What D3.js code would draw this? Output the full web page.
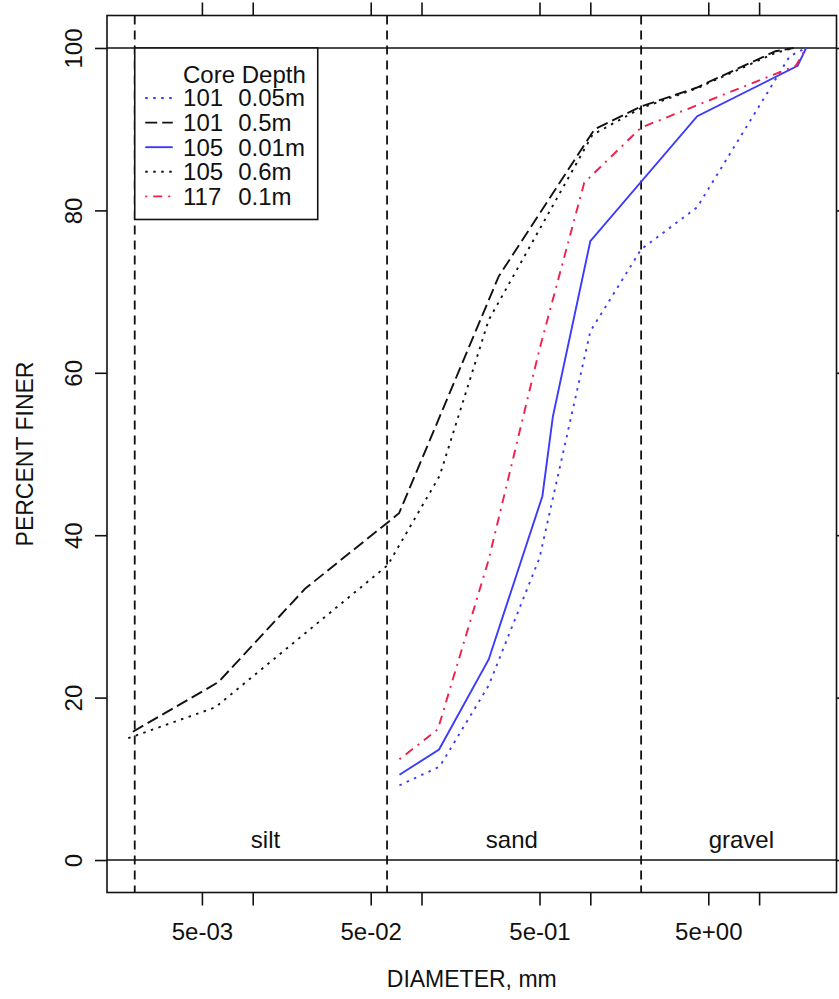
<!DOCTYPE html>
<html>
<head>
<meta charset="utf-8">
<script src="https://cdn.jsdelivr.net/npm/d3@7"></script>
<style>
  html, body { margin: 0; padding: 0; background: #ffffff; }
  svg { display: block; }
  text { font-family: "Liberation Sans", Arial, Helvetica, sans-serif; fill: #111; }
</style>
</head>
<body>
<svg id="chart" width="839" height="999"></svg>
<script>
// Grain-size distribution curves (percent finer vs. diameter, log scale)

const seriesLabels = [["101", "0.05m"], ["101", "0.5m"], ["105", "0.01m"], ["105", "0.6m"], ["117", "0.1m"]];

const diam101a = [0.074, 0.128, 0.25, 0.5, 1.0, 2.0, 4.3, 15.2, 19];
const pct101a  = [9.2, 11.5, 21.5, 37.2, 65.1, 75.2, 80.4, 99.0, 100];

const diam101b = [0.00195, 0.00625, 0.0204, 0.0736, 0.287, 1.06, 2.0, 4.25, 12.5, 16];
const pct101b  = [15.8, 21.9, 33.4, 42.7, 71.9, 90.0, 92.8, 95.1, 99.6, 100];

const diam105a = [0.074, 0.127, 0.25, 0.52, 0.6, 1.0, 4.3, 16.9, 19];
const pct105a  = [10.5, 13.6, 24.7, 44.8, 54.6, 76.2, 91.6, 97.8, 100];

const diam105b = [0.00183, 0.006, 0.063, 0.128, 0.25, 1.03, 2.0, 4.25, 12.5, 16];
const pct105b  = [15.0, 18.8, 36.3, 47.3, 66.5, 89.3, 92.6, 95.0, 99.4, 100];

const diam117 = [0.074, 0.125, 0.25, 0.5, 0.92, 2.0, 16.5, 19];
const pct117  = [12.4, 16.1, 37.0, 62.9, 83.4, 90.2, 97.8, 100];

const xTickValues = [0.005, 0.01, 0.05, 0.1, 0.5, 1, 5, 10];
const xTickLabels = ["5e-03", "", "5e-02", "", "5e-01", "", "5e+00", ""];
const yTickValues = [0, 20, 40, 60, 80, 100];

// class boundaries (mm): clay/silt, silt/sand, sand/gravel
const boundaries = [0.002, 0.0625, 2];
const classNames = ["silt", "sand", "gravel"];
const classLabelX = [0.0119, 0.343, 7.85];

const styles = [
  { color: "#3b3bff", dash: "2.5,5.5" },
  { color: "#111111", dash: "12,5" },
  { color: "#3b3bff", dash: null },
  { color: "#111111", dash: "2.5,5.5" },
  { color: "#f0204a", dash: "2,6,9,6" }
];

const seriesData = [
  d3.zip(diam101a, pct101a),
  d3.zip(diam101b, pct101b),
  d3.zip(diam105a, pct105a),
  d3.zip(diam105b, pct105b),
  d3.zip(diam117, pct117)
];

const pLeft = 107, pRight = 836.5, pTop = 15.5, pBottom = 892.5;

const x = d3.scaleLog()
  .domain([0.001370, 28.74])
  .range([pLeft, pRight]);

const y = d3.scaleLinear()
  .domain([-4, 104])
  .range([pBottom, pTop]);

const svg = d3.select("#chart");

svg.append("defs").append("clipPath").attr("id", "plotClip")
  .append("rect")
  .attr("x", pLeft).attr("y", pTop)
  .attr("width", pRight - pLeft).attr("height", pBottom - pTop);

const fmt = d => xTickLabels[xTickValues.indexOf(d)];

// bottom axis
const gx = svg.append("g")
  .attr("transform", `translate(0,${pBottom})`)
  .call(d3.axisBottom(x).tickValues(xTickValues).tickFormat(fmt).tickSize(13).tickSizeOuter(0));
gx.select(".domain").remove();
gx.selectAll("line").attr("stroke", "#111").attr("stroke-width", 1.6);
gx.selectAll("text").attr("dy", null).attr("y", 47)
  .style("font-size", "24px").style("font-family", "Liberation Sans, Arial, sans-serif").attr("fill", "#111");

// top axis (ticks only)
const gxt = svg.append("g")
  .attr("transform", `translate(0,${pTop})`)
  .call(d3.axisTop(x).tickValues(xTickValues).tickFormat("").tickSize(13).tickSizeOuter(0));
gxt.select(".domain").remove();
gxt.selectAll("line").attr("stroke", "#111").attr("stroke-width", 1.6);

// left axis
const gy = svg.append("g")
  .attr("transform", `translate(${pLeft},0)`)
  .call(d3.axisLeft(y).tickValues(yTickValues).tickSize(12).tickSizeOuter(0));
gy.select(".domain").remove();
gy.selectAll("line").attr("stroke", "#111").attr("stroke-width", 1.6);
gy.selectAll("text")
  .attr("x", null).attr("dy", null)
  .attr("transform", "translate(-25,0) rotate(-90)")
  .attr("text-anchor", "middle")
  .style("font-size", "24px").style("font-family", "Liberation Sans, Arial, sans-serif").attr("fill", "#111");

// right axis (ticks only)
const gyr = svg.append("g")
  .attr("transform", `translate(${pRight},0)`)
  .call(d3.axisRight(y).tickValues(yTickValues).tickFormat("").tickSize(12).tickSizeOuter(0));
gyr.select(".domain").remove();
gyr.selectAll("line").attr("stroke", "#111").attr("stroke-width", 1.6);

// reference lines at 0 % and 100 %
svg.append("g").selectAll("line").data([0, 100]).join("line")
  .attr("x1", pLeft).attr("x2", pRight)
  .attr("y1", d => y(d)).attr("y2", d => y(d))
  .attr("stroke", "#111").attr("stroke-width", 1.6);

// size-class boundaries
svg.append("g").selectAll("line").data(boundaries).join("line")
  .attr("x1", d => x(d)).attr("x2", d => x(d))
  .attr("y1", pTop).attr("y2", pBottom)
  .attr("stroke", "#111").attr("stroke-width", 1.8)
  .attr("stroke-dasharray", "9,6");

// class names
svg.append("g").selectAll("text").data(classNames).join("text")
  .attr("x", (d, i) => x(classLabelX[i]))
  .attr("y", y(1.45))
  .attr("text-anchor", "middle")
  .style("font-size", "24px")
  .text(d => d);

// curves
const line = d3.line().x(d => x(d[0])).y(d => y(d[1]));
svg.append("g").attr("clip-path", "url(#plotClip)")
  .selectAll("path").data(seriesData).join("path")
  .attr("d", line)
  .attr("fill", "none")
  .attr("stroke", (d, i) => styles[i].color)
  .attr("stroke-width", 1.9)
  .attr("stroke-dasharray", (d, i) => styles[i].dash);

// plot frame
svg.append("rect")
  .attr("x", pLeft).attr("y", pTop)
  .attr("width", pRight - pLeft).attr("height", pBottom - pTop)
  .attr("fill", "none").attr("stroke", "#111").attr("stroke-width", 1.6);

// legend anchored at (0.002 mm, 100 %)
const lgX = x(0.002), lgY = y(100);
const lg = svg.append("g");
lg.append("rect")
  .attr("x", lgX).attr("y", lgY)
  .attr("width", 183).attr("height", 171.5)
  .attr("fill", "#fff").attr("stroke", "#111").attr("stroke-width", 1.6);
lg.append("text")
  .attr("x", lgX + 48.3).attr("y", lgY + 35)
  .style("font-size", "24px")
  .text("Core Depth");
seriesLabels.forEach((lab, i) => {
  const cy = lgY + 50 + i * 24.6;
  lg.append("line")
    .attr("x1", lgX + 10.5).attr("x2", lgX + 38)
    .attr("y1", cy).attr("y2", cy)
    .attr("stroke", styles[i].color).attr("stroke-width", 1.9)
    .attr("stroke-dasharray", styles[i].dash);
  lg.append("text").attr("x", lgX + 48.3).attr("y", cy + 8.5)
    .style("font-size", "24px").text(lab[0]);
  lg.append("text").attr("x", lgX + 103.5).attr("y", cy + 8.5)
    .style("font-size", "24px").text(lab[1]);
});

// axis titles
svg.append("text")
  .attr("x", (pLeft + pRight) / 2).attr("y", 987)
  .attr("text-anchor", "middle")
  .style("font-size", "23px")
  .text("DIAMETER, mm");
svg.append("text")
  .attr("transform", `translate(33,${(pTop + pBottom) / 2}) rotate(-90)`)
  .attr("text-anchor", "middle")
  .style("font-size", "23px")
  .text("PERCENT FINER");
</script>
</body>
</html>
